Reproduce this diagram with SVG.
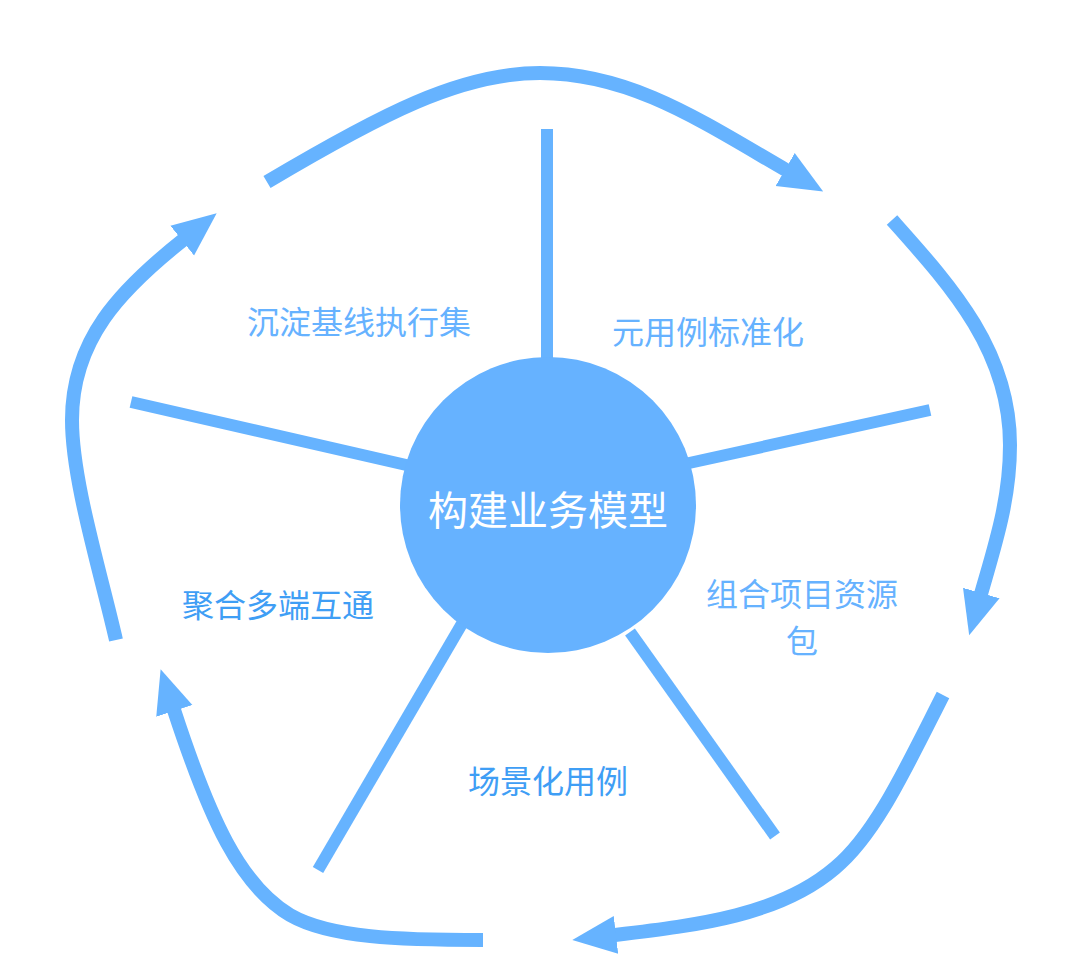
<svg xmlns="http://www.w3.org/2000/svg" width="1080" height="976" viewBox="0 0 1080 976">
  <defs>
    <style>
      .spoke { stroke: #66b3ff; stroke-width: 12; fill: none; }
      .arc { stroke: #66b3ff; stroke-width: 14; fill: none; marker-end: url(#head); }
      .lbl { font-family: "Noto Sans CJK SC", "Noto Sans", sans-serif; font-size: 32px; text-anchor: middle; dominant-baseline: central; fill: #66b2ff; }
      .lbl2 { fill: #3f9ef5; }
      .hub { font-family: "Noto Sans CJK SC", "Noto Sans", sans-serif; font-size: 40px; text-anchor: middle; dominant-baseline: central; fill: #ffffff; }
    </style>
    <marker id="head" markerUnits="userSpaceOnUse" markerWidth="50" markerHeight="44" refX="1" refY="20" orient="auto" viewBox="0 0 50 40">
      <path d="M0,1 L44,20 L0,39 Z" fill="#66b3ff"/>
    </marker>
  </defs>
  <rect width="1080" height="976" fill="#ffffff"/>

  <g id="connectors">
    <path class="arc" d="M267,182 C380,115 460,73 540,73 C630,73 700,120 786,170"/>
    <path class="arc" d="M892,220 C950,285 1010,350 1010,445 C1010,500 995,545 981,594"/>
    <path class="arc" d="M943,695 C905,770 875,835 835,868 C780,915 700,925 615,935"/>
    <path class="arc" d="M483,940 C400,940 330,938 290,915 C240,885 210,820 174,710"/>
    <path class="arc" d="M116,640 C100,570 72,480 72,420 C72,340 120,290 183,240"/>
    <line class="spoke" x1="547" y1="129" x2="547" y2="380"/>
    <line class="spoke" x1="930" y1="410" x2="680" y2="465"/>
    <line class="spoke" x1="131" y1="402" x2="415" y2="467"/>
    <line class="spoke" x1="318" y1="870" x2="470" y2="610"/>
    <line class="spoke" x1="775" y1="836" x2="630" y2="632"/>
  </g>

  <g id="hub">
    <circle cx="548" cy="505" r="148" fill="#66b2ff"/>
    <text class="hub" x="548" y="508">构建业务模型</text>
  </g>
  <g id="n1"><text class="lbl" x="359" y="320">沉淀基线执行集</text></g>
  <g id="n2"><text class="lbl" x="708" y="330">元用例标准化</text></g>
  <g id="n3">
    <text class="lbl" x="802" y="592">组合项目资源</text>
    <text class="lbl" x="802" y="639">包</text>
  </g>
  <g id="n4"><text class="lbl lbl2" x="548" y="779">场景化用例</text></g>
  <g id="n5"><text class="lbl lbl2" x="278" y="603">聚合多端互通</text></g>
</svg>
